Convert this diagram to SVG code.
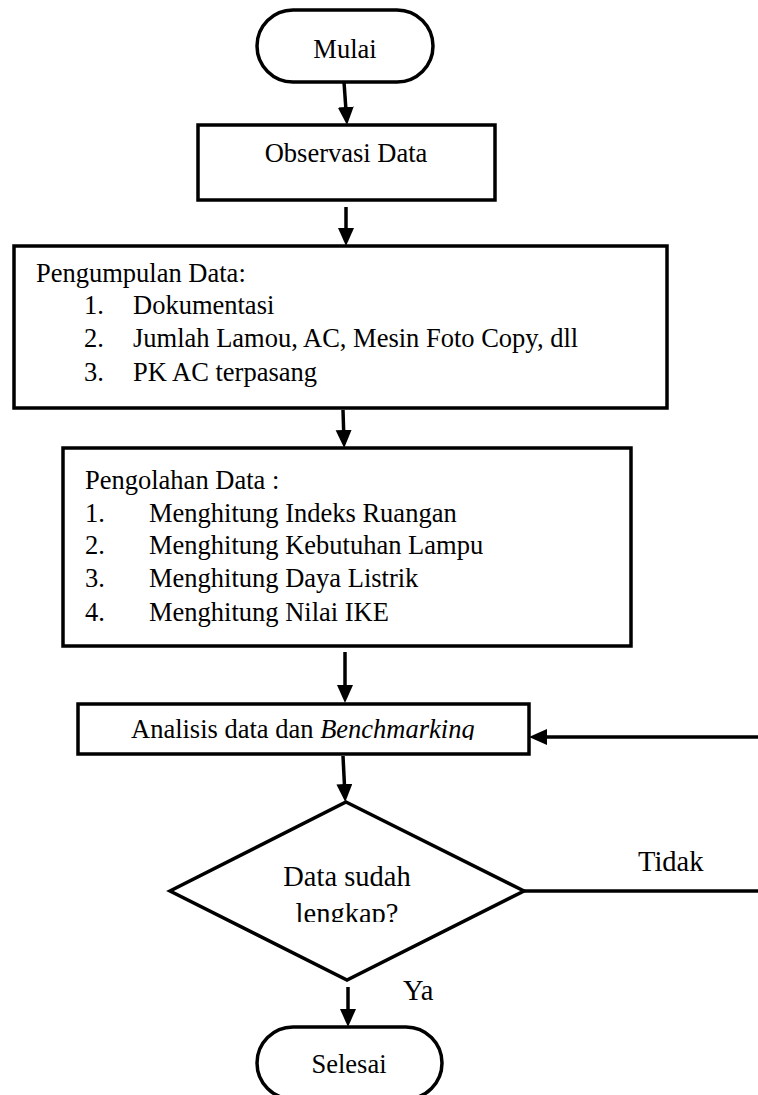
<svg xmlns="http://www.w3.org/2000/svg" width="758" height="1095" viewBox="0 0 758 1095">
<style>
.box{fill:#fff;stroke:#000;stroke-width:3.5}
.t{font-family:"Liberation Serif","Times New Roman",serif;font-size:26.5px;fill:#000}
.tl{font-family:"Liberation Serif","Times New Roman",serif;font-size:28.5px;fill:#000}
.c{text-anchor:middle}
.ln{stroke:#000;stroke-width:3.5;fill:none}
</style>
<defs>
<marker id="ah" markerUnits="userSpaceOnUse" markerWidth="18" markerHeight="18" refX="12" refY="8" orient="auto">
<path d="M0,0 L18,8 L0,16 z" fill="#000"/>
</marker>
<clipPath id="clipA"><rect x="0" y="0" width="758" height="740"/></clipPath>
<clipPath id="clipD"><rect x="0" y="0" width="758" height="922"/></clipPath>
</defs>
<g id="connectors">
<line class="ln" x1="344" y1="82" x2="346.6" y2="119" marker-end="url(#ah)"/>
<line class="ln" x1="346" y1="207" x2="346" y2="240" marker-end="url(#ah)"/>
<line class="ln" x1="343" y1="410" x2="344" y2="442" marker-end="url(#ah)"/>
<line class="ln" x1="345" y1="652" x2="345" y2="697" marker-end="url(#ah)"/>
<line class="ln" x1="343" y1="756" x2="345" y2="796" marker-end="url(#ah)"/>
<line class="ln" x1="348" y1="987" x2="348" y2="1021" marker-end="url(#ah)"/>
<line class="ln" x1="758" y1="737" x2="535" y2="737" marker-end="url(#ah)"/>
<line class="ln" x1="524" y1="891" x2="758" y2="891"/>
<text class="tl" x="638" y="871">Tidak</text>
<text class="tl" x="403" y="1000">Ya</text>
</g>
<g id="mulai">
<rect class="box" x="257" y="10" width="176" height="72" rx="36" ry="36"/>
<text class="t c" x="345" y="58">Mulai</text>
</g>
<g id="observasi">
<rect class="box" x="198" y="125" width="297" height="75"/>
<text class="t c" x="346" y="162">Observasi Data</text>
</g>
<g id="pengumpulan">
<rect class="box" x="14" y="246" width="653" height="162"/>
<text class="t" x="36" y="282">Pengumpulan Data:</text>
<text class="t" x="84" y="314">1.</text><text class="t" x="133" y="314">Dokumentasi</text>
<text class="t" x="84" y="347">2.</text><text class="t" x="133" y="347">Jumlah Lamou, AC, Mesin Foto Copy, dll</text>
<text class="t" x="84" y="381">3.</text><text class="t" x="133" y="381">PK AC terpasang</text>
</g>
<g id="pengolahan">
<rect class="box" x="63" y="448" width="568" height="198"/>
<text class="t" x="85" y="489">Pengolahan Data :</text>
<text class="t" x="85" y="522">1.</text><text class="t" x="149" y="522">Menghitung Indeks Ruangan</text>
<text class="t" x="85" y="554">2.</text><text class="t" x="149" y="554">Menghitung Kebutuhan Lampu</text>
<text class="t" x="85" y="587">3.</text><text class="t" x="149" y="587">Menghitung Daya Listrik</text>
<text class="t" x="85" y="621">4.</text><text class="t" x="149" y="621">Menghitung Nilai IKE</text>
</g>
<g id="analisis">
<rect class="box" x="78" y="704" width="451" height="50"/>
<text class="t" x="131" y="738" clip-path="url(#clipA)">Analisis data dan <tspan font-style="italic">Benchmarking</tspan></text>
</g>
<g id="keputusan">
<polygon class="box" points="346,802 524,891 347,980 170,891"/>
<g clip-path="url(#clipD)">
<text class="tl c" x="347" y="886">Data sudah</text>
<text class="tl c" x="347" y="923">lengkap?</text>
</g>
</g>
<g id="selesai">
<rect class="box" x="257" y="1027" width="185" height="72" rx="36" ry="36"/>
<text class="t c" x="349" y="1073">Selesai</text>
</g>
</svg>
